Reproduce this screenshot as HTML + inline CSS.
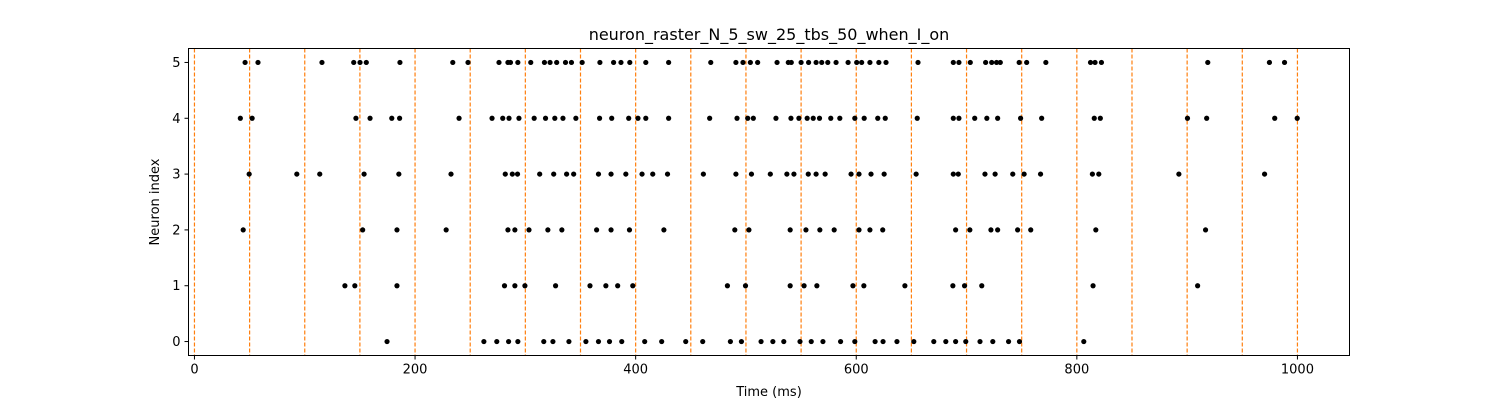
<!DOCTYPE html>
<html><head><meta charset="utf-8"><style>
html,body{margin:0;padding:0;background:#fff;}
svg{display:block;font-family:"DejaVu Sans","Liberation Sans",sans-serif;}
</style></head>
<body>
<svg id="chart" width="1500" height="400" viewBox="0 0 1500 400" xmlns="http://www.w3.org/2000/svg">
<rect width="1500" height="400" fill="#fff"/>
<text x="769" y="40" text-anchor="middle" font-size="16">neuron_raster_N_5_sw_25_tbs_50_when_I_on</text>
<g id="grid"></g>
<g id="dots"></g>
<rect x="188.5" y="48.5" width="1161" height="307" fill="none" stroke="#000" stroke-width="1"/>
<g id="axes"></g>
<text x="769" y="396" text-anchor="middle" font-size="13">Time (ms)</text>
<text transform="translate(159,202) rotate(-90)" text-anchor="middle" font-size="13">Neuron index</text>
</svg>
<script>
const xTicks=[0,200,400,600,800,1000];
const yTicks=[0,1,2,3,4,5];
const windowMarks=[0,50,100,150,200,250,300,350,400,450,500,550,600,650,700,750,800,850,900,950,1000];
const spikes0=[174.6,262.4,274.1,284.8,293.2,316.7,325,339.5,354.9,366.3,376.3,387.4,408.2,423.6,445.4,460.8,485.9,495.9,513.7,524.4,534.3,549,559.2,569.8,585.8,598.7,617.1,624.3,636.9,652.2,670.3,681.2,690.1,699.3,712.2,723.8,738.1,748,806.3];
const spikes1=[136.4,145.4,183.6,281.1,290.5,299.6,327.4,358.6,373,383.7,397.4,483.2,499.6,540.1,552.7,564.3,597,606.9,644.1,687.6,698.2,713.8,814.7,909.5];
const spikes2=[44.2,152.5,183.6,228.2,284.2,290.5,303.3,320.4,333.1,364.6,377.7,394.4,425.6,489.9,502.7,540.1,554.4,567,580,602.5,612.4,624,690.1,703,722.1,728.2,746.3,758.2,817.2,916.7];
const spikes3=[49.6,92.8,113.6,153.8,185.3,232.6,281.8,288.2,292.9,313,325.7,337.4,343.8,366.3,377.7,391.1,405.8,415.5,428.9,461.4,490.9,505,522.1,537.1,543.5,556.5,563.6,571.8,595.3,602.5,613.4,625.3,654.3,688,692.5,716.7,725.9,741.9,752.2,767.1,814.1,819.9,892.5,970.2];
const spikes4=[41.6,52.3,146.4,159.2,178.9,186,239.9,269.8,279.5,285.2,294.2,308,318.3,326.7,334.1,345.8,367.3,378.3,393.7,402.1,409.2,429.9,467.1,491.9,501.6,506.7,527.2,540.8,548,555.5,561,566.7,576.9,585.1,598.7,607.2,619.5,626.3,655.3,688,693.1,707.4,718.4,728.2,749,768.1,815.8,821.3,900.3,917.7,979.4,999.8];
const spikes5=[45.9,57.6,115.6,144.4,150.1,155.8,186.3,234.2,248,276.1,284.2,286.5,293.2,304.9,317.3,322.4,328.4,336.4,341.8,351.5,367.6,380,386.7,394.7,409.2,429.9,468.1,490.9,497.3,504,510.6,528.2,538.4,541.1,550,556.8,563.6,568.7,574.2,581.7,592.6,600.4,604.9,612.4,620.5,627,656,688,693.1,703.4,717.3,722.8,727.2,730.6,747.7,754.5,771.9,812.4,816.5,822.3,918.7,974.6,988.3];
const allSpikes=[spikes0,spikes1,spikes2,spikes3,spikes4,spikes5];

const NS='http://www.w3.org/2000/svg';
const L=188.5,R=1349.5,T=48.5,B=355.5;
const xMin=-5.4,xMax=1047.2,yMin=-0.25,yMax=5.25;
function xs(v){return L+(v-xMin)/(xMax-xMin)*(R-L);}
function ys(v){return B-(v-yMin)/(yMax-yMin)*(B-T);}
function mk(tag,attrs,parent){const e=document.createElementNS(NS,tag);for(const k in attrs)e.setAttribute(k,attrs[k]);parent.appendChild(e);return e;}

const grid=document.getElementById('grid');
windowMarks.forEach(v=>{
  const l=mk('line',{x1:xs(v),x2:xs(v),y1:T,y2:B,stroke:'#ff7f0e','stroke-width':1.2,'stroke-dasharray':'4,2'},grid);
  
  
});
const dots=document.getElementById('dots');
allSpikes.forEach((arr,i)=>{
  arr.forEach(t=>{
    const c=mk('circle',{cx:xs(t),cy:ys(i),r:2.6,fill:'#000'},dots);
    
    
  });
});
const axes=document.getElementById('axes');
xTicks.forEach(v=>{
  const x=xs(v);
  mk('line',{x1:x,x2:x,y1:B,y2:B+4,stroke:'#000'},axes);
  const t=mk('text',{x:x,y:B+18,'text-anchor':'middle','font-size':13},axes);
  t.textContent=v;
  
  
});
yTicks.forEach(v=>{
  const y=ys(v);
  mk('line',{x1:L-4,x2:L,y1:y,y2:y,stroke:'#000'},axes);
  const t=mk('text',{x:L-8,y:y+4.5,'text-anchor':'end','font-size':13},axes);
  t.textContent=v;
  
  
});
</script>
</body></html>
